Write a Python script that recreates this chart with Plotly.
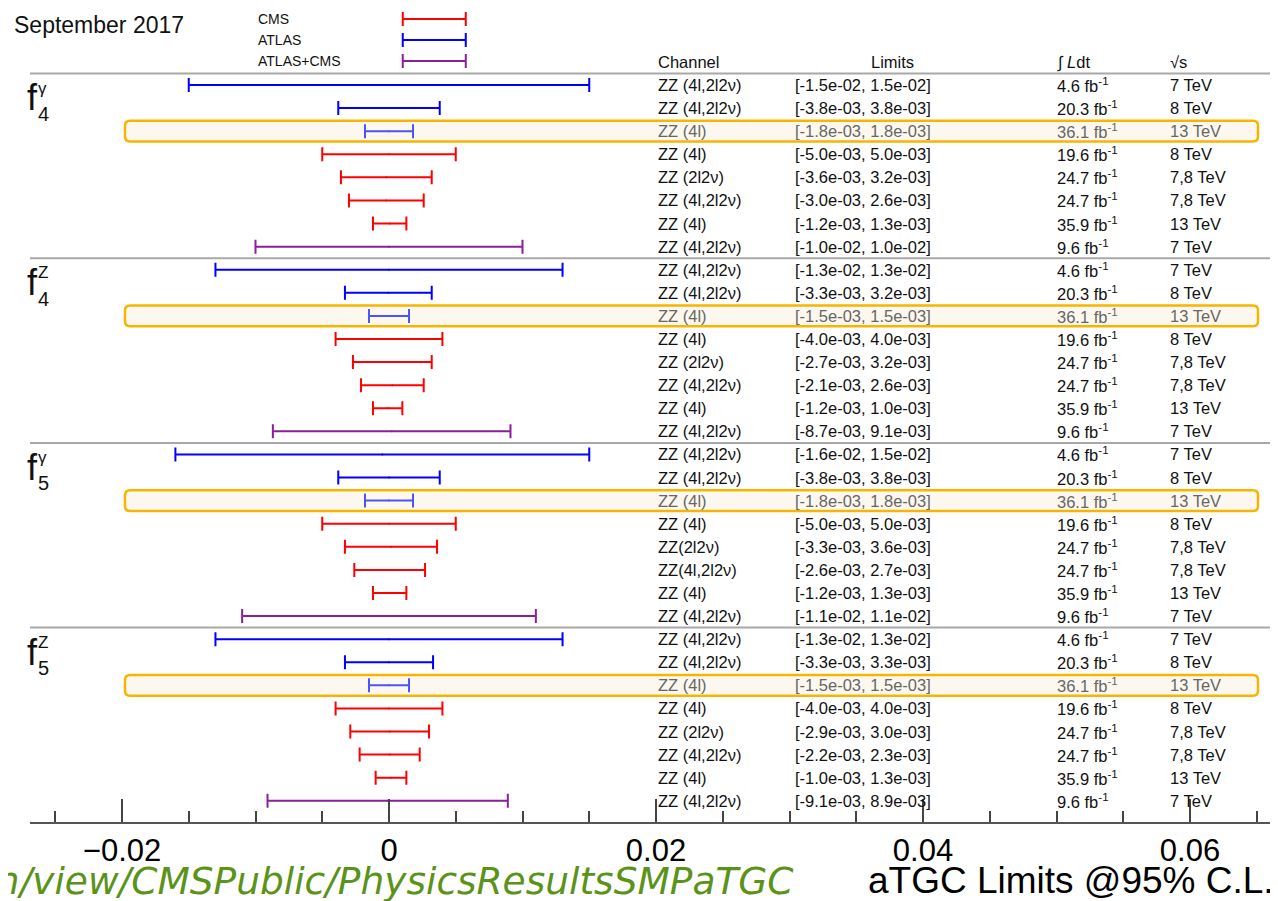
import plotly.graph_objects as go

# ---------------- data ----------------
group_labels = [("f", "4", "γ"), ("f", "4", "Z"), ("f", "5", "γ"), ("f", "5", "Z")]

experiment = (["ATLAS", "ATLAS", "ATLAS13", "CMS", "CMS", "CMS", "CMS", "COMB"] * 4)

channels = [
    "ZZ (4l,2l2ν)", "ZZ (4l,2l2ν)", "ZZ (4l)", "ZZ (4l)", "ZZ (2l2ν)", "ZZ (4l,2l2ν)", "ZZ (4l)", "ZZ (4l,2l2ν)",
    "ZZ (4l,2l2ν)", "ZZ (4l,2l2ν)", "ZZ (4l)", "ZZ (4l)", "ZZ (2l2ν)", "ZZ (4l,2l2ν)", "ZZ (4l)", "ZZ (4l,2l2ν)",
    "ZZ (4l,2l2ν)", "ZZ (4l,2l2ν)", "ZZ (4l)", "ZZ (4l)", "ZZ(2l2ν)", "ZZ(4l,2l2ν)", "ZZ (4l)", "ZZ (4l,2l2ν)",
    "ZZ (4l,2l2ν)", "ZZ (4l,2l2ν)", "ZZ (4l)", "ZZ (4l)", "ZZ (2l2ν)", "ZZ (4l,2l2ν)", "ZZ (4l)", "ZZ (4l,2l2ν)",
]

lower = [
    -1.5e-02, -3.8e-03, -1.8e-03, -5.0e-03, -3.6e-03, -3.0e-03, -1.2e-03, -1.0e-02,
    -1.3e-02, -3.3e-03, -1.5e-03, -4.0e-03, -2.7e-03, -2.1e-03, -1.2e-03, -8.7e-03,
    -1.6e-02, -3.8e-03, -1.8e-03, -5.0e-03, -3.3e-03, -2.6e-03, -1.2e-03, -1.1e-02,
    -1.3e-02, -3.3e-03, -1.5e-03, -4.0e-03, -2.9e-03, -2.2e-03, -1.0e-03, -9.1e-03,
]
upper = [
    1.5e-02, 3.8e-03, 1.8e-03, 5.0e-03, 3.2e-03, 2.6e-03, 1.3e-03, 1.0e-02,
    1.3e-02, 3.2e-03, 1.5e-03, 4.0e-03, 3.2e-03, 2.6e-03, 1.0e-03, 9.1e-03,
    1.5e-02, 3.8e-03, 1.8e-03, 5.0e-03, 3.6e-03, 2.7e-03, 1.3e-03, 1.1e-02,
    1.3e-02, 3.3e-03, 1.5e-03, 4.0e-03, 3.0e-03, 2.3e-03, 1.3e-03, 8.9e-03,
]
lumi = ["4.6", "20.3", "36.1", "19.6", "24.7", "24.7", "35.9", "9.6"] * 4
energy = ["7 TeV", "8 TeV", "13 TeV", "8 TeV", "7,8 TeV", "7,8 TeV", "13 TeV", "7 TeV"] * 4

legend_names = ["CMS", "ATLAS", "ATLAS+CMS"]
legend_keys = ["CMS", "ATLAS", "COMB"]

# ---------------- styling ----------------
FONT = "Liberation Sans, Arial, Helvetica, sans-serif"
colors = {"CMS": "#ff0000", "ATLAS": "#0000ff", "ATLAS13": "#4b55f7", "COMB": "#8b1f9b"}

OFF = 8  # page body margin
W, H = 1278 - OFF, 901 - OFF
# reference-pixel geometry
AX_LEFT, AX_RIGHT, AX_BOTTOM = 30, 1278, 822
PX_PER_X = 13350.0
X0_PX = 389.0
ROW1_PX = 85.0
ROW_PX = 23.09

L_M = AX_LEFT - OFF
R_M = 0
T_M = 0
B_M = H - (AX_BOTTOM - OFF)
xr = [(AX_LEFT - X0_PX) / PX_PER_X, (1278 - X0_PX) / PX_PER_X]
yr = [1 + (AX_BOTTOM - ROW1_PX) / ROW_PX, 1 + (OFF - ROW1_PX) / ROW_PX]


def px_x(p):
    return (p - AX_LEFT) / (1278 - AX_LEFT)


def px_y(p):
    return (AX_BOTTOM - p) / (AX_BOTTOM - OFF)


rows = list(range(1, len(lower) + 1))

fig = go.Figure()

for key in ["ATLAS", "ATLAS13", "CMS", "COMB"]:
    idx = [i for i, e in enumerate(experiment) if e == key]
    cx = [(lower[i] + upper[i]) / 2 for i in idx]
    fig.add_trace(go.Scatter(
        x=cx, y=[rows[i] for i in idx], mode="markers",
        marker=dict(size=2, color=colors[key]),
        error_x=dict(type="data", symmetric=False,
                     array=[upper[i] - c for i, c in zip(idx, cx)],
                     arrayminus=[c - lower[i] for i, c in zip(idx, cx)],
                     color=colors[key], thickness=2, width=7),
        showlegend=False, hoverinfo="skip",
    ))

# legend samples (drawn above the table)
leg_lo, leg_hi = 0.00103, 0.00575
leg_rows = [1 + (p - ROW1_PX) / ROW_PX for p in (19, 40, 61)]
for name, key, yy in zip(legend_names, legend_keys, leg_rows):
    c = (leg_lo + leg_hi) / 2
    fig.add_trace(go.Scatter(
        x=[c], y=[yy], mode="markers", marker=dict(size=2, color=colors[key]),
        error_x=dict(type="data", symmetric=False, array=[leg_hi - c], arrayminus=[c - leg_lo],
                     color=colors[key], thickness=2, width=7),
        showlegend=False, hoverinfo="skip"))

shapes = []
# highlight boxes
rx, ry = 5 / PX_PER_X, 5 / ROW_PX
hx0, hx1 = (125 - X0_PX) / PX_PER_X, (1258 - X0_PX) / PX_PER_X
for i, e in enumerate(experiment):
    if e == "ATLAS13":
        y0, y1 = rows[i] - 0.45, rows[i] + 0.45
        path = (f"M {hx0+rx},{y0} L {hx1-rx},{y0} Q {hx1},{y0} {hx1},{y0+ry} "
                f"L {hx1},{y1-ry} Q {hx1},{y1} {hx1-rx},{y1} L {hx0+rx},{y1} "
                f"Q {hx0},{y1} {hx0},{y1-ry} L {hx0},{y0+ry} Q {hx0},{y0} {hx0+rx},{y0} Z")
        shapes.append(dict(type="path", path=path, xref="x", yref="y", layer="below",
                           fillcolor="#fdf8ef", line=dict(color="#f7b500", width=2.5)))
# separators
for k in range(len(group_labels)):
    yy = 8 * k + 0.5
    shapes.append(dict(type="line", xref="paper", yref="y", x0=0, x1=1, y0=yy, y1=yy,
                       line=dict(color="#a8a8a8", width=2)))

ann = []
TXT = 16.5
col_x = {"ch": 0.0200, "lim": 0.03026, "lumi": 0.04989, "rs": 0.05835}
for i in rows:
    j = i - 1
    tc = "#666666" if experiment[j] == "ATLAS13" else "#111111"
    lim = f"[{lower[j]:.1e}, {upper[j]:.1e}]"
    for key, txt in (("ch", channels[j]), ("lim", lim),
                     ("lumi", f"{lumi[j]} fb<sup>-1</sup>"), ("rs", energy[j])):
        ann.append(dict(x=col_x[key], y=i, xref="x", yref="y", text=txt, showarrow=False,
                        xanchor="left", yanchor="middle", font=dict(size=TXT, color=tc, family=FONT)))

hdr_row = 1 + (62 - ROW1_PX) / ROW_PX
ann.append(dict(x=col_x["ch"], y=hdr_row, xref="x", yref="y", text="Channel", showarrow=False,
                xanchor="left", yanchor="middle", font=dict(size=TXT, color="#111", family=FONT)))
ann.append(dict(x=0.0377, y=hdr_row, xref="x", yref="y", text="Limits", showarrow=False,
                xanchor="center", yanchor="middle", font=dict(size=TXT, color="#111", family=FONT)))
ann.append(dict(x=col_x["lumi"], y=hdr_row, xref="x", yref="y", text="∫ <i>L</i>dt", showarrow=False,
                xanchor="left", yanchor="middle", font=dict(size=TXT, color="#111", family=FONT)))
ann.append(dict(x=col_x["rs"], y=hdr_row, xref="x", yref="y", text="√s", showarrow=False,
                xanchor="left", yanchor="middle", font=dict(size=TXT, color="#111", family=FONT)))

# legend labels
for name, yy in zip(legend_names, (19, 40, 61)):
    ann.append(dict(x=px_x(256), y=px_y(yy), xref="paper", yref="paper", text=name, showarrow=False,
                    xanchor="left", yanchor="middle", font=dict(size=14, color="#111", family=FONT)))

# group labels
for k, (base, sub, sup) in enumerate(group_labels):
    top = ROW1_PX + 8 * k * ROW_PX
    ann.append(dict(x=px_x(25), y=px_y(top + 13), xref="paper", yref="paper", text=base, showarrow=False,
                    xanchor="left", yanchor="middle", font=dict(size=36, color="#111", family=FONT)))
    ann.append(dict(x=px_x(36), y=px_y(top + 29), xref="paper", yref="paper", text=sub, showarrow=False,
                    xanchor="left", yanchor="middle", font=dict(size=20, color="#111", family=FONT)))
    ann.append(dict(x=px_x(36), y=px_y(top + 3), xref="paper", yref="paper", text=sup, showarrow=False,
                    xanchor="left", yanchor="middle", font=dict(size=17, color="#111", family=FONT)))

ann.append(dict(x=px_x(12), y=px_y(25), xref="paper", yref="paper", text="September 2017", showarrow=False,
                xanchor="left", yanchor="middle", font=dict(size=23, color="#111", family=FONT)))
ann.append(dict(x=px_x(1276), y=px_y(881), xref="paper", yref="paper", text="aTGC Limits @95% C.L.",
                showarrow=False, xanchor="right", yanchor="middle",
                font=dict(size=37, color="#000", family=FONT)))
ann.append(dict(x=px_x(796), y=px_y(881), xref="paper", yref="paper",
                text="https://twiki.cern.ch/twiki/bin/view/CMSPublic/PhysicsResultsSMPaTGC",
                showarrow=False, xanchor="right", yanchor="middle",
                font=dict(size=37.5, color="#5b9218", family="DejaVu Sans", style="italic")))

fig.update_layout(
    width=W, height=H, margin=dict(l=L_M, r=R_M, t=T_M, b=B_M),
    paper_bgcolor="white", plot_bgcolor="white",
    shapes=shapes, annotations=ann, showlegend=False,
    xaxis=dict(range=xr, showgrid=False, zeroline=False, showline=True, linecolor="#555", linewidth=1.5,
               ticks="inside", ticklen=23, tickwidth=1.5, tickcolor="#444", dtick=0.02, tick0=0,
               tickfont=dict(size=31, color="#000", family=FONT),
               minor=dict(ticks="inside", ticklen=11, tickwidth=1.5, tickcolor="#444", dtick=0.005, tick0=0,
                          showgrid=False)),
    yaxis=dict(range=yr, visible=False, showgrid=False, zeroline=False),
)

fig.write_html("out.html")
